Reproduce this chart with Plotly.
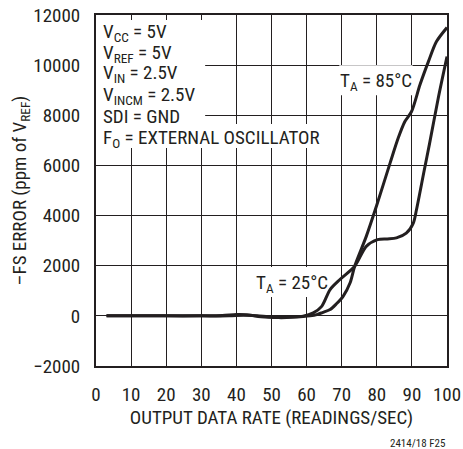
import plotly.graph_objects as go

# ---- data ----
x_85 = [3, 10, 20, 30, 36, 40, 43, 47, 52, 56, 59, 61, 62.9, 64.5, 66.7, 68.5, 70.4, 72.4,
        73.7, 77, 80, 83.8, 86.1, 88, 89.9, 92.3, 94.7, 97, 100]
y_85 = [0, 0, 0, 0, 10, 50, 40, -40, -70, -60, -30, 0, 50, 130, 250, 480, 780, 1320,
        1980, 3170, 4420, 6100, 7090, 7750, 8150, 9215, 10140, 10940, 11500]

x_25 = [3, 10, 20, 30, 38, 42, 46, 50, 55, 59, 61.9, 64.3, 66.7, 69.5, 73.7, 77, 80.2,
        83, 85.6, 88.4, 90.4, 91.3, 93.5, 95, 97.5, 100]
y_25 = [0, 0, 0, 0, 0, 20, 0, -40, -40, -10, 120, 380, 1050, 1450, 1980, 2770, 3040,
        3070, 3110, 3300, 3700, 4230, 5800, 6850, 8680, 10340]

x_ticks = [0, 10, 20, 30, 40, 50, 60, 70, 80, 90, 100]
y_ticks = [-2000, 0, 2000, 4000, 6000, 8000, 10000, 12000]

cond_lines = ["V<sub>CC</sub> = 5V", "V<sub>REF</sub> = 5V", "V<sub>IN</sub> = 2.5V",
              "V<sub>INCM</sub> = 2.5V", "SDI = GND", "F<sub>O</sub> = EXTERNAL OSCILLATOR"]

FONT = "Liberation Sans Narrow, Roboto Condensed, Arial Narrow, Roboto, sans-serif"
INK = "#231f20"

fig = go.Figure()
for xs, ys, nm in [(x_25, y_25, "T<sub>A</sub> = 25°C"), (x_85, y_85, "T<sub>A</sub> = 85°C")]:
    fig.add_trace(go.Scatter(x=xs, y=ys, mode="lines", name=nm,
                             line=dict(color=INK, width=3, shape="spline", smoothing=0.8),
                             showlegend=False, hoverinfo="skip"))

axis_common = dict(showgrid=True, gridcolor=INK, gridwidth=1.2, showline=True, mirror=True,
                   linecolor=INK, linewidth=2, zeroline=False, ticks="", automargin=False,
                   tickfont=dict(family=FONT, size=19, color=INK))

fig.update_layout(
    width=463, height=449,
    margin=dict(l=96, r=16, t=15, b=83, pad=0),
    paper_bgcolor="white", plot_bgcolor="white",
    font=dict(family=FONT, color=INK),
    xaxis=dict(range=[0, 100], tickvals=x_ticks, ticklabelstandoff=10,
               title=dict(text="OUTPUT DATA RATE (READINGS/SEC)", font=dict(family=FONT, size=19, color=INK), standoff=3),
               **axis_common),
    yaxis=dict(range=[-2000, 12000], tickvals=y_ticks, tickformat="d", ticklabelstandoff=10,
               title=dict(text="–FS ERROR (ppm of V<sub>REF</sub>)", font=dict(family=FONT, size=19, color=INK), standoff=2),
               **axis_common),
)

# white patches hiding the grid behind the texts (above the grid, below the curves)
for x0, x1, y0, y1 in [(0.0, 31.1, 6700, 11800), (0.0, 65.5, 6700, 7650),
                       (69.3, 90.2, 8800, 10000), (45.0, 66.2, 750, 1950)]:
    fig.add_shape(type="rect", xref="x", yref="y", x0=x0, x1=x1, y0=y0, y1=y1,
                  fillcolor="white", line=dict(width=0), layer="between")

# caps centres of the condition lines (y-axis units)
ann_y = [11300, 10480, 9680, 8800, 7970, 7090]
for t, yy in zip(cond_lines, ann_y):
    fig.add_annotation(text=t, xref="paper", yref="y", x=0.016, y=yy, xanchor="left",
                       yanchor="middle", showarrow=False, borderpad=0,
                       font=dict(family=FONT, size=19, color=INK))

fig.add_annotation(text="T<sub>A</sub> = 85°C", x=79.8, y=9350, showarrow=False,
                   font=dict(family=FONT, size=19, color=INK))
fig.add_annotation(text="T<sub>A</sub> = 25°C", x=55.8, y=1280, showarrow=False,
                   font=dict(family=FONT, size=19, color=INK))
fig.add_annotation(text="2414/18 F25", xref="paper", yref="paper", x=1.0, y=-0.222,
                   xanchor="right", yanchor="middle", showarrow=False,
                   font=dict(family=FONT, size=11, color=INK))

fig.write_html("out.html", config={"displayModeBar": False},
               post_script="document.body.style.margin='0';")
